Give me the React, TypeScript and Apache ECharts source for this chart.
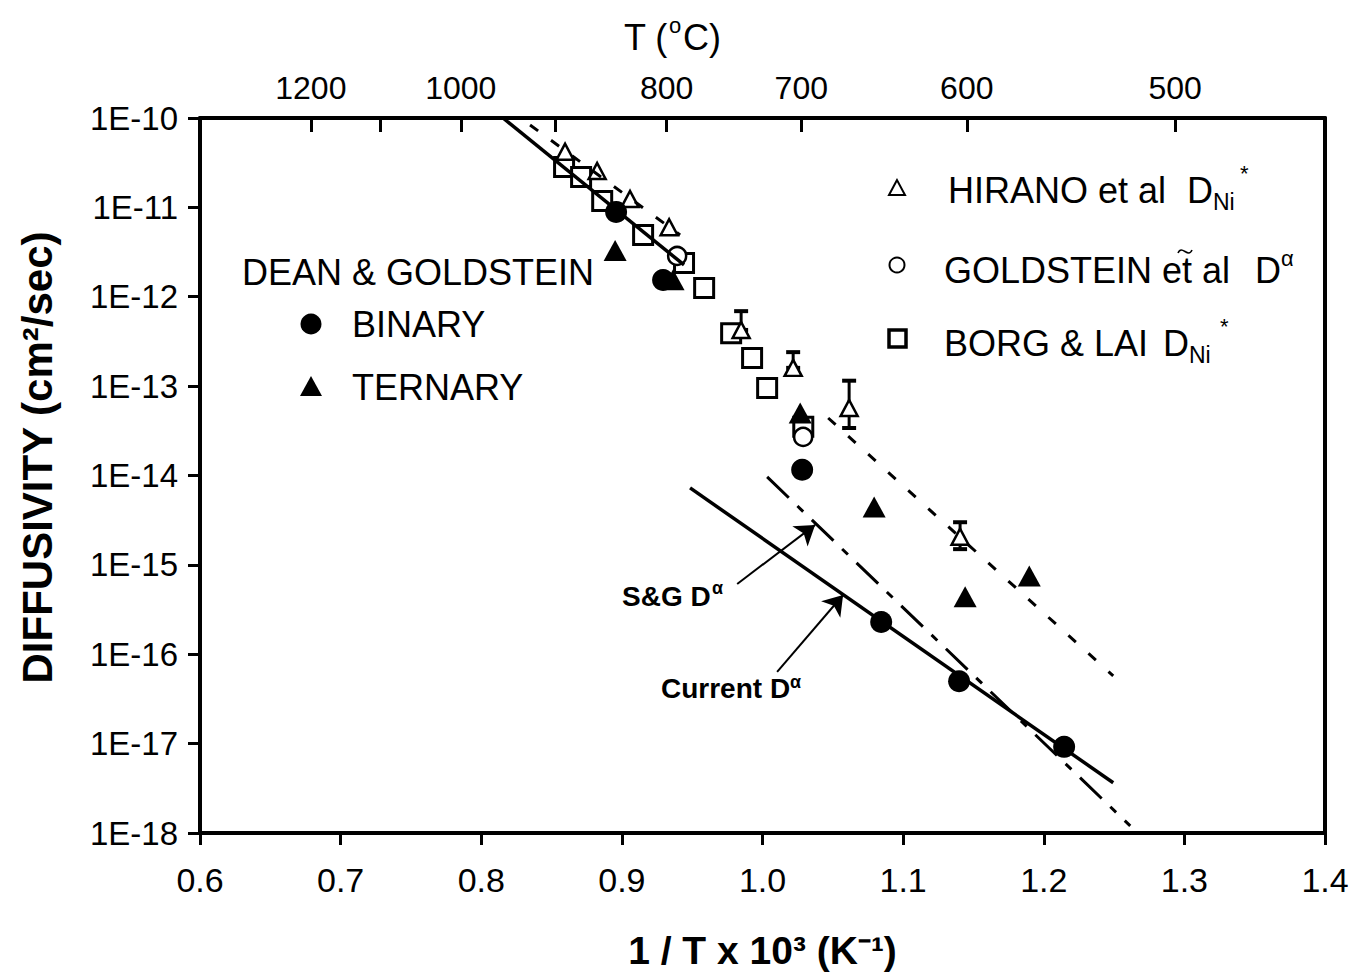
import React, { useEffect, useRef } from "react";
import * as echarts from "echarts";

// ---------- data ----------
const topTempsLabelled = [1200, 1000, 800, 700, 600, 500]; // °C
const topTempsUnlabelled = [1100, 900]; // °C

// DEAN & GOLDSTEIN binary (filled circles) [1/T x 1e3, D]
const binary = [
  [0.8959, 8.9e-12],
  [0.9293, 1.54e-12],
  [1.0282, 1.16e-14],
  [1.0844, 2.3e-16],
  [1.1398, 5.0e-17],
  [1.2145, 9.2e-18],
];
// DEAN & GOLDSTEIN ternary (filled triangles)
const ternary = [
  [0.8952, 3.3e-12],
  [0.9364, 1.55e-12],
  [1.0268, 5.0e-14],
  [1.0794, 4.45e-15],
  [1.1441, 4.4e-16],
  [1.1897, 7.5e-16],
];
// HIRANO et al (open triangles)
const hirano = [
  [0.8596, 4.2e-11],
  [0.8824, 2.55e-11],
  [0.9058, 1.24e-11],
  [0.9336, 6.0e-12],
  [0.9848, 4.25e-13],
  [1.0218, 1.6e-13],
  [1.0616, 5.7e-14],
  [1.1405, 2.06e-15],
];
// HIRANO error bars [x, low, high]
const hiranoErr = [
  [0.9848, 4.25e-13, 6.9e-13],
  [1.0218, 1.6e-13, 2.4e-13],
  [1.0616, 3.4e-14, 1.15e-13],
  [1.1405, 1.5e-15, 3.0e-15],
];
// GOLDSTEIN et al (open circles)
const goldstein = [
  [0.9393, 2.86e-12],
  [1.0289, 2.7e-14],
];
// BORG & LAI (open squares)
const borgLai = [
  [0.8589, 2.83e-11],
  [0.871, 2.19e-11],
  [0.886, 1.18e-11],
  [0.9151, 4.9e-12],
  [0.9442, 2.39e-12],
  [0.9585, 1.25e-12],
  [0.9777, 3.9e-13],
  [0.9926, 2.07e-13],
  [1.0033, 9.5e-14],
  [1.029, 3.5e-14],
];
// fitted lines (end points)
const binaryHighFit = [
  [0.8155, 1e-10],
  [0.9442, 2.27e-12],
];
const hiranoHighFit = [
  [0.8347, 8.36e-11],
  [0.9414, 4.91e-12],
];
const hiranoLowFit = [
  [1.0467, 4.4e-14],
  [1.2494, 5.73e-17],
];
const currentFit = [
  [0.9485, 7.26e-15],
  [1.2494, 3.65e-18],
];
const sgFit = [
  [1.0033, 9.64e-15],
  [1.2615, 1.2e-18],
];
// annotation arrows [from, to]
const sgArrow = [
  [0.982, 6.12e-16],
  [1.0374, 2.8e-15],
];
const currentArrow = [
  [1.0104, 6.35e-17],
  [1.0573, 4.6e-16],
];

const FONT = '"Liberation Sans", Arial, Helvetica, sans-serif';
const toInv = (c: number) => 1000 / (c + 273.15);

const txt = (
  text: string,
  x: number,
  y: number,
  size: number,
  opts: { bold?: boolean; align?: string } = {}
) => ({
  type: "text",
  x,
  y,
  z: 100,
  style: {
    text,
    font: `${opts.bold ? "bold " : ""}${size}px ${FONT}`,
    fill: "#000",
    textAlign: opts.align || "left",
    textVerticalAlign: "middle",
  },
});

export default function App() {
  const ref = useRef<HTMLDivElement>(null);

  useEffect(() => {
    if (!ref.current) return;
    const chart = echarts.init(ref.current, null, { renderer: "svg" });

    const lineSeries = (data: number[][], type: any, width: number, extra: any = {}) => ({
      type: "line",
      data,
      symbol: "none",
      silent: true,
      lineStyle: { color: "#000", width, type },
      xAxisIndex: 0,
      yAxisIndex: 0,
      ...extra,
    });

    const option: any = {
      animation: false,
      backgroundColor: "#fff",
      textStyle: { fontFamily: FONT, color: "#000" },
      grid: {
        left: 200,
        right: 27,
        top: 118,
        bottom: 140,
        containLabel: false,
        outerBoundsMode: "none",
      },
      xAxis: [
        {
          type: "value",
          position: "bottom",
          min: 0.6,
          max: 1.4,
          interval: 0.1,
          axisLine: { show: true, onZero: false, lineStyle: { color: "#000", width: 4 } },
          axisTick: { show: true, inside: false, length: 12, lineStyle: { color: "#000", width: 3 } },
          axisLabel: {
            fontSize: 34,
            color: "#000",
            fontFamily: FONT,
            margin: 30,
            formatter: (v: number) => v.toFixed(1),
          },
          splitLine: { show: false },
          name: "1 / T x 10³ (K⁻¹)",
          nameLocation: "middle",
          nameGap: 98,
          nameTextStyle: { fontSize: 39, fontWeight: "bold", color: "#000", fontFamily: FONT },
        },
        {
          type: "value",
          position: "top",
          min: 0.6,
          max: 1.4,
          axisLine: { show: true, onZero: false, lineStyle: { color: "#000", width: 4 } },
          axisTick: {
            show: true,
            inside: true,
            length: 14,
            lineStyle: { color: "#000", width: 3 },
            customValues: [...topTempsLabelled, ...topTempsUnlabelled].map(toInv),
          },
          axisLabel: {
            show: true,
            fontSize: 32,
            color: "#000",
            fontFamily: FONT,
            margin: 14,
            customValues: topTempsLabelled.map(toInv),
            formatter: (v: number) => String(Math.round(1000 / v - 273.15)),
          },
          splitLine: { show: false },
        },
      ],
      yAxis: [
        {
          type: "log",
          logBase: 10,
          min: 1e-18,
          max: 1e-10,
          splitNumber: 8,
          position: "left",
          axisLine: { show: true, onZero: false, lineStyle: { color: "#000", width: 4 } },
          axisTick: { show: true, inside: false, length: 12, lineStyle: { color: "#000", width: 3 } },
          axisLabel: {
            fontSize: 33,
            color: "#000",
            fontFamily: FONT,
            margin: 22,
            formatter: (v: number) => "1E" + Math.round(Math.log10(v)),
          },
          splitLine: { show: false },
          minorTick: { show: false },
          name: "DIFFUSIVITY (cm²/sec)",
          nameLocation: "middle",
          nameRotate: 90,
          nameGap: 142,
          nameTextStyle: {
            fontSize: 42,
            fontWeight: "bold",
            color: "#000",
            fontFamily: FONT,
            padding: [0, 0, 0, 36],
          },
        },
        {
          type: "log",
          logBase: 10,
          min: 1e-18,
          max: 1e-10,
          position: "right",
          axisLine: { show: true, onZero: false, lineStyle: { color: "#000", width: 4 } },
          axisTick: { show: false },
          axisLabel: { show: false },
          splitLine: { show: false },
        },
      ],
      series: [
        lineSeries(binaryHighFit, "solid", 3.5),
        lineSeries(hiranoHighFit, [10, 16], 3),
        lineSeries(hiranoLowFit, [10, 17], 3),
        lineSeries(sgFit, [30, 12, 8, 12], 3),
        lineSeries(currentFit, "solid", 3.5, {
          markLine: {
            silent: true,
            symbol: ["none", "arrow"],
            symbolSize: 19,
            label: { show: false },
            lineStyle: { color: "#000", width: 2, type: "solid", opacity: 1 },
            data: [
              [{ coord: sgArrow[0] }, { coord: sgArrow[1] }],
              [{ coord: currentArrow[0] }, { coord: currentArrow[1] }],
            ],
          },
        }),
        {
          type: "custom",
          data: hiranoErr,
          silent: true,
          encode: { x: 0, y: [1, 2] },
          renderItem: (_p: any, api: any) => {
            const x = api.value(0);
            const lo = api.coord([x, api.value(1)]);
            const hi = api.coord([x, api.value(2)]);
            const c = 7;
            return {
              type: "group",
              children: [
                { type: "line", shape: { x1: hi[0], y1: hi[1], x2: lo[0], y2: lo[1] }, style: { stroke: "#000", lineWidth: 3 } },
                { type: "line", shape: { x1: hi[0] - c, y1: hi[1], x2: hi[0] + c, y2: hi[1] }, style: { stroke: "#000", lineWidth: 4 } },
                { type: "line", shape: { x1: lo[0] - c, y1: lo[1], x2: lo[0] + c, y2: lo[1] }, style: { stroke: "#000", lineWidth: 4 } },
              ],
            };
          },
        },
        {
          type: "scatter",
          data: borgLai,
          symbol: "rect",
          symbolSize: 19,
          itemStyle: { color: "#fff", borderColor: "#000", borderWidth: 3, opacity: 1 },
        },
        {
          type: "scatter",
          data: hirano,
          symbol: "triangle",
          symbolSize: [17, 16],
          itemStyle: { color: "#fff", borderColor: "#000", borderWidth: 2.5, opacity: 1 },
        },
        {
          type: "scatter",
          data: goldstein,
          symbol: "circle",
          symbolSize: 18,
          itemStyle: { color: "#fff", borderColor: "#000", borderWidth: 2.5, opacity: 1 },
        },
        {
          type: "scatter",
          data: ternary,
          symbol: "triangle",
          symbolSize: [23, 21],
          itemStyle: { color: "#000", opacity: 1 },
        },
        {
          type: "scatter",
          data: binary,
          symbol: "circle",
          symbolSize: 22,
          itemStyle: { color: "#000", opacity: 1 },
        },
      ],
      graphic: [
        // top axis title
        txt("T (", 624, 37, 36),
        txt("o", 669, 25, 22),
        txt("C)", 683, 37, 36),
        // left legend
        txt("DEAN & GOLDSTEIN", 242, 272, 36),
        { type: "circle", z: 100, shape: { cx: 311, cy: 324, r: 10.5 }, style: { fill: "#000" } },
        txt("BINARY", 352, 324, 36),
        {
          type: "polygon",
          z: 100,
          shape: { points: [[311, 376], [300, 396], [322, 396]] },
          style: { fill: "#000" },
        },
        txt("TERNARY", 352, 387, 36),
        // right legend
        {
          type: "polygon",
          z: 100,
          shape: { points: [[897, 180], [889, 195], [905, 195]] },
          style: { fill: "#fff", stroke: "#000", lineWidth: 2 },
        },
        txt("HIRANO et al", 948, 190, 36),
        txt("D", 1187, 190, 36),
        txt("Ni", 1213, 202, 23),
        txt("*", 1240, 173, 22),
        {
          type: "circle",
          z: 100,
          shape: { cx: 897, cy: 265, r: 7.5 },
          style: { fill: "#fff", stroke: "#000", lineWidth: 2 },
        },
        txt("GOLDSTEIN et al", 944, 270, 36),
        {
          type: "bezierCurve",
          z: 100,
          shape: { x1: 1178, y1: 253, x2: 1192, y2: 250, cpx1: 1182, cpy1: 244, cpx2: 1188, cpy2: 259 },
          style: { stroke: "#000", lineWidth: 1.6, fill: null },
        },
        txt("D", 1255, 270, 36),
        txt("α", 1281, 258, 22),
        {
          type: "rect",
          z: 100,
          shape: { x: 889, y: 330, width: 17, height: 17 },
          style: { fill: "#fff", stroke: "#000", lineWidth: 3.5 },
        },
        txt("BORG & LAI", 944, 343, 36),
        txt("D", 1163, 343, 36),
        txt("Ni", 1189, 355, 23),
        txt("*", 1220, 326, 22),
        // annotations
        txt("S&G D", 622, 596, 28, { bold: true }),
        txt("α", 712, 588, 18, { bold: true }),
        txt("Current D", 661, 688, 28, { bold: true }),
        txt("α", 790, 682, 18, { bold: true }),
      ],
    };

    chart.setOption(option);
    return () => chart.dispose();
  }, []);

  return (
    <div
      ref={ref}
      style={{ position: "absolute", left: 0, top: 0, width: 1352, height: 973, background: "#fff" }}
    />
  );
}
